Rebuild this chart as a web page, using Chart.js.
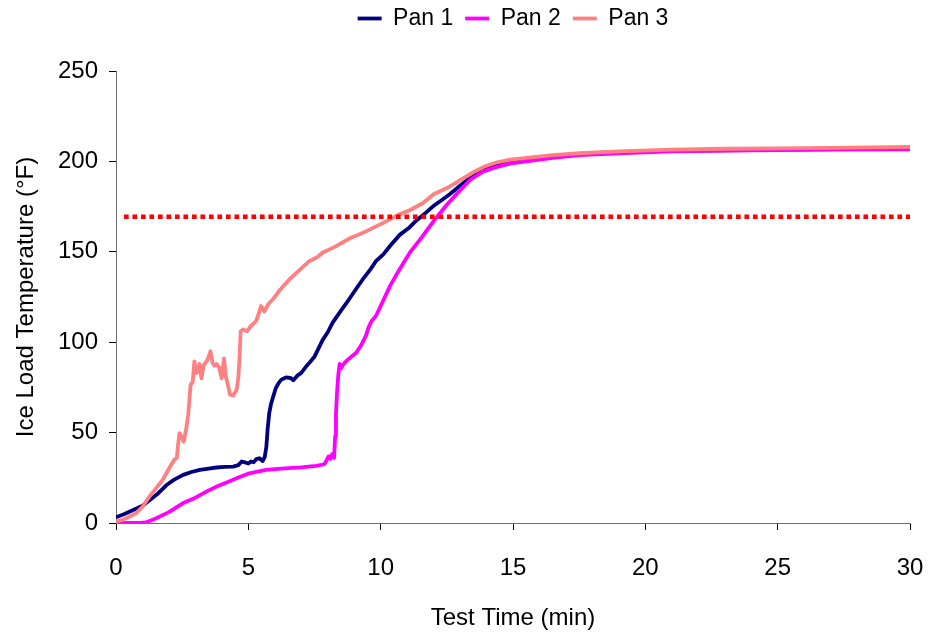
<!DOCTYPE html>
<html>
<head>
<meta charset="utf-8">
<title>Ice Load Temperature</title>
<script src="https://cdn.jsdelivr.net/npm/chart.js@4.4.1/dist/chart.umd.min.js"></script>
<style>
    html, body { margin: 0; padding: 0; background: #ffffff; }
    #wrap { width: 941px; height: 635px; }
</style>
</head>
<body>
<div id="wrap"><canvas id="grafico" width="941" height="635"></canvas></div>
<script>
// Dados (tempo em min, temperatura em °F)
const pan1Time = [0, 0.3, 0.65, 1.0, 1.28, 1.6, 1.91, 2.2, 2.54, 2.85, 3.17, 3.5, 3.8, 4.1, 4.43, 4.62, 4.75, 4.88, 5.0, 5.1, 5.2, 5.3, 5.42, 5.54, 5.62, 5.68, 5.73, 5.79, 5.86, 5.94, 6.04, 6.15, 6.25, 6.42, 6.6, 6.7, 6.85, 7.0, 7.18, 7.3, 7.5, 7.8, 8.0, 8.18, 8.5, 8.8, 9.05, 9.32, 9.6, 9.82, 10.1, 10.4, 10.73, 11.05, 11.36, 11.7, 11.99, 12.3, 12.62, 12.95, 13.25, 13.55, 13.88, 14.2, 14.5, 14.88, 15.5, 16, 17, 18, 19, 20, 22, 24, 26, 28, 30];
const pan1Temp = [3.2, 4.8, 7.2, 9.5, 12.7, 16.5, 21, 24, 26.6, 28.2, 29.4, 30.1, 30.7, 31, 31.2, 32, 34, 33.5, 32.9, 34, 33.6, 35.3, 35.8, 34.3, 36.5, 42, 52, 60.8, 66, 70, 74.7, 77.5, 79.3, 80.5, 80.2, 79, 81.5, 83, 86.5, 88.5, 92, 101, 105.5, 110.7, 117.5, 123.6, 129, 134.7, 140, 144.8, 148.6, 154, 159.5, 163, 167.5, 171.5, 175.3, 178.5, 182, 186, 189.5, 192.5, 195, 197, 198.5, 200, 201.3, 202, 203.5, 204.5, 205, 205.5, 206, 206.3, 206.6, 207, 207.3];

const pan2Time = [0, 0.5, 0.9, 1.13, 1.5, 2.0, 2.52, 3.0, 3.5, 3.78, 4.2, 4.6, 5.04, 5.4, 5.67, 6.0, 6.5, 7.0, 7.56, 7.87, 7.95, 8.03, 8.1, 8.17, 8.24, 8.28, 8.31, 8.35, 8.4, 8.45, 8.5, 8.58, 8.69, 8.85, 9.07, 9.25, 9.44, 9.55, 9.65, 9.82, 10.0, 10.35, 10.7, 11.1, 11.5, 11.8, 12.11, 12.5, 12.87, 13.4, 13.88, 14.4, 14.88, 15.5, 16.5, 17.5, 19, 21, 23, 25, 27, 30];
const pan2Temp = [0, 0, 0, 0.3, 2.5, 6, 10.9, 14, 18, 20, 22.5, 25, 27.5, 28.6, 29.4, 29.8, 30.3, 30.8, 31.6, 32.5, 34.5, 36.8, 35.5, 38, 36, 48, 60, 72, 82, 88, 85.5, 87.5, 89.4, 91.5, 94, 98, 103.5, 108.5, 111.5, 114.5, 120, 131, 140, 149.5, 157, 163, 169, 176, 182, 190, 194.5, 197, 198.8, 200, 202, 203.5, 204.5, 205.5, 206, 206.3, 206.5, 206.6];

const pan3Time = [0, 0.3, 0.76, 1.0, 1.26, 1.5, 1.76, 2.0, 2.2, 2.3, 2.35, 2.4, 2.5, 2.56, 2.65, 2.73, 2.82, 2.9, 2.96, 3.05, 3.1, 3.15, 3.23, 3.3, 3.43, 3.5, 3.57, 3.65, 3.72, 3.8, 3.9, 3.99, 4.08, 4.15, 4.25, 4.31, 4.43, 4.56, 4.62, 4.67, 4.71, 4.8, 4.95, 5.1, 5.29, 5.4, 5.48, 5.6, 5.75, 5.92, 6.2, 6.55, 6.9, 7.3, 7.6, 7.8, 8.3, 8.84, 9.4, 10.1, 10.7, 11.1, 11.6, 12.0, 12.6, 13.1, 13.5, 13.9, 14.4, 14.9, 15.5, 16.5, 17.5, 19, 21, 23, 25, 27, 30];
const pan3Temp = [0.7, 2, 5.4, 9, 14.6, 19, 23.8, 30, 35, 36, 44, 49.7, 47, 45, 52, 60, 76.5, 78, 89.4, 83, 84, 88, 80, 87, 89.5, 92, 95, 88.5, 87, 88, 86, 80, 91, 81, 75, 71, 70.5, 73.7, 80, 92, 106, 107, 106, 109, 111.6, 116, 120, 117, 121, 123.6, 129, 134.7, 139.5, 144.8, 147, 149.5, 153, 157.5, 161, 166, 170.7, 173, 177, 181.8, 186, 190.5, 194, 197, 199.5, 201, 202, 203.5, 204.5, 205.5, 206.5, 207, 207.2, 207.5, 208];

// Linha pontilhada de referência
const targetTime = [0.3, 30];
const targetTemp = [169.4, 169.4];

const xTicks = [0, 5, 10, 15, 20, 25, 30];
const yTicks = [0, 50, 100, 150, 200, 250];

document.addEventListener('DOMContentLoaded', function() {
    const fonte = 'Liberation Sans, Arial, Helvetica, sans-serif';
    Chart.defaults.font.family = fonte;
    Chart.defaults.color = '#000000';

    const toPoints = (xs, ys) => xs.map((x, i) => ({ x: x, y: ys[i] }));

    // Espaço abaixo da legenda e legenda centrada sobre a área do gráfico
    const legendSpacing = {
        id: 'legendSpacing',
        beforeInit(chart) {
            const fit = chart.legend.fit;
            chart.legend.fit = function() {
                fit.bind(chart.legend)();
                this.height = 71;
            };
        },
        afterLayout(chart) {
            chart.legend.left = chart.chartArea.left;
            chart.legend.right = chart.chartArea.right;
            chart.legend.top = -5;
        }
    };

    const ctx = document.getElementById('grafico').getContext('2d');

    new Chart(ctx, {
        type: 'line',
        data: {
            datasets: [
                { label: 'Pan 1', data: toPoints(pan1Time, pan1Temp), borderColor: '#000080', backgroundColor: '#000080', borderWidth: 3.8, pointRadius: 0, order: 3 },
                { label: 'Pan 2', data: toPoints(pan2Time, pan2Temp), borderColor: '#FF00FF', backgroundColor: '#FF00FF', borderWidth: 3.8, pointRadius: 0, order: 2 },
                { label: 'Pan 3', data: toPoints(pan3Time, pan3Temp), borderColor: '#FF8080', backgroundColor: '#FF8080', borderWidth: 3.8, pointRadius: 0, order: 1 },
                { label: 'target', data: toPoints(targetTime, targetTemp), borderColor: '#FF0000', borderWidth: 4.5, borderDash: [4.7, 3.8], borderCapStyle: 'butt', pointRadius: 0, order: 0 }
            ]
        },
        options: {
            responsive: false,
            animation: false,
            layout: { padding: { left: 0, right: 31, top: 0, bottom: 0 } },
            elements: { line: { tension: 0, borderJoinStyle: 'round' } },
            plugins: {
                legend: {
                    position: 'top',
                    labels: {
                        usePointStyle: true,
                        pointStyle: 'line',
                        pointStyleWidth: 24,
                        padding: 12,
                        color: '#000000',
                        font: { size: 23 },
                        filter: item => item.text !== 'target',
                        sort: (a, b) => a.text.localeCompare(b.text)
                    }
                },
                tooltip: { enabled: false }
            },
            scales: {
                x: {
                    type: 'linear',
                    min: 0,
                    max: 30,
                    afterBuildTicks: s => { s.ticks = xTicks.map(v => ({ value: v })); },
                    afterFit: s => { s.height = 112; s.paddingLeft = 0; s.paddingRight = 0; },
                    ticks: { padding: 24, color: '#000000', font: { size: 24 }, maxRotation: 0 },
                    grid: { drawOnChartArea: false, drawTicks: true, tickLength: 7, color: '#000000' },
                    border: { color: '#6e6e6e', width: 1 },
                    title: { display: true, text: 'Test Time (min)', color: '#000000', font: { size: 24 }, padding: { top: 0, bottom: 2 } }
                },
                y: {
                    min: 0,
                    max: 250,
                    afterBuildTicks: s => { s.ticks = yTicks.map(v => ({ value: v })); },
                    afterFit: s => { s.width = 116; },
                    ticks: { padding: 11, color: '#000000', font: { size: 24 } },
                    grid: { drawOnChartArea: false, drawTicks: true, tickLength: 7, color: '#000000' },
                    border: { color: '#6e6e6e', width: 1 },
                    title: { display: true, text: 'Ice Load Temperature (°F)', color: '#000000', font: { size: 24 }, padding: { top: 12, bottom: 0 } }
                }
            }
        },
        plugins: [legendSpacing]
    });
});
</script>
</body>
</html>
